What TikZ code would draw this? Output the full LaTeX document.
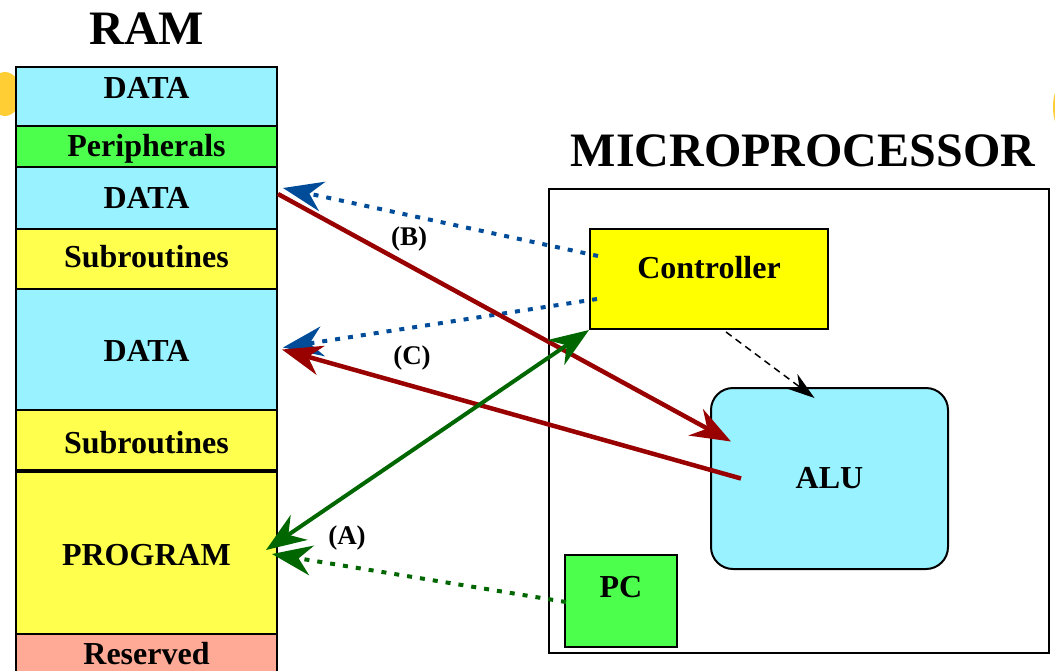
\documentclass[tikz,border=0pt]{standalone}
\usepackage{fontspec}
\setmainfont{Liberation Serif}
\usetikzlibrary{arrows.meta,calc}
\definecolor{cellcyan}{RGB}{153,242,255}
\definecolor{cellgreen}{RGB}{77,255,77}
\definecolor{cellyellow}{RGB}{255,255,77}
\definecolor{ctrlyellow}{RGB}{255,255,0}
\definecolor{cellsalmon}{RGB}{255,170,150}
\definecolor{darkred}{RGB}{153,0,0}
\definecolor{darkblue}{RGB}{0,76,153}
\definecolor{darkgreen}{RGB}{0,102,0}
\definecolor{smudge}{RGB}{255,200,30}
\begin{document}
\begin{tikzpicture}[x=1pt,y=-1pt,
  boxfont/.style={font=\bfseries\fontsize{32}{32}\selectfont},
  ramcell/.style={draw=black,line width=2pt,inner sep=0pt,minimum width=261pt,anchor=north west,boxfont},
  unit/.style={draw=black,line width=2pt,inner sep=0pt,anchor=north west,boxfont},
  titlefont/.style={font=\bfseries\fontsize{48}{48}\selectfont,inner sep=0pt},
  lbl/.style={font=\bfseries\fontsize{27}{27}\selectfont,inner sep=0pt},
  bigtip/.tip={Stealth[length=40pt,width=30pt,inset=13pt]},
  headtip/.style={-bigtip},
  redarrow/.style={headtip,draw=darkred,line width=4.5pt},
  greenarrow/.style={bigtip-bigtip,draw=darkgreen,line width=4pt},
  bluedots/.style={headtip,draw=darkblue,line width=4pt,dash pattern=on 5pt off 8pt},
  greendots/.style={headtip,draw=darkgreen,line width=4pt,dash pattern=on 5pt off 8pt},
  ctrldash/.style={-{Stealth[length=28pt,width=18pt,inset=9pt]},draw=black,line width=1.5pt,dash pattern=on 7pt off 5pt}]
\clip (0,0) rectangle (1055,670);
% background smudges
\fill[smudge,opacity=0.9] (5,94) ellipse [x radius=16pt,y radius=22pt];
\fill[smudge,opacity=0.9] (1059,107) ellipse [x radius=6pt,y radius=19pt];
% titles
\node[titlefont] (ramtitle) at (147,29) {RAM};
\node[titlefont] (mptitle) at (803,151) {MICROPROCESSOR};
% RAM cells
\node[ramcell,fill=cellcyan,minimum height=59pt,text depth=17pt] (d1) at (15,66) {DATA};
\node[ramcell,fill=cellgreen,minimum height=41pt,text depth=2pt] (per) at (15,125) {Peripherals};
\node[ramcell,fill=cellcyan,minimum height=62pt] (d3) at (15,166) {DATA};
\node[ramcell,fill=cellyellow,minimum height=60pt,text height=17pt] (sub1) at (15,228) {Subroutines};
\node[ramcell,fill=cellcyan,minimum height=121pt,text height=25pt] (d5) at (15,288) {DATA};
\node[ramcell,fill=cellyellow,minimum height=60pt,text height=28pt] (sub2) at (15,409) {Subroutines};
\node[ramcell,fill=cellyellow,minimum height=164pt,text height=27pt] (prog) at (15,469) {PROGRAM};
\node[ramcell,fill=cellsalmon,minimum height=40pt] (res) at (15,633) {Reserved};
\draw[line width=3pt] (sub2.south west) -- (sub2.south east);
% microprocessor
\node[unit,minimum width=500pt,minimum height=464pt] (mp) at (548,188) {};
\node[unit,fill=ctrlyellow,minimum width=238pt,minimum height=100pt,text depth=24pt] (ctrl) at (589,228) {Controller};
\node[unit,fill=cellcyan,rounded corners=22pt,minimum width=237pt,minimum height=181pt] (alu) at (710,387) {ALU};
\node[unit,fill=cellgreen,minimum width=112pt,minimum height=92pt,text depth=28pt] (pc) at (564,554) {PC};
% connectors
\draw[ctrldash] ($(ctrl.south)+(17,2)$) -- ($(alu.north)+(-15,11)$);
\draw[bluedots] ($(ctrl.west)+(9,-23)$) -- ($(d3.east)+(5,-10)$);
\draw[bluedots] ($(ctrl.west)+(8,20)$) -- ($(d5.east)+(5,-2)$);
\draw[redarrow] ($(d3.east)+(0,-4)$) -- ($(alu.west)+(21,-37)$);
\draw[redarrow] ($(alu.west)+(31,0)$) -- ($(d5.east)+(4,0)$);
\draw[greendots] ($(pc.west)+(2,1)$) -- ($(prog.east)+(-6,2)$);
\draw[greenarrow] ($(prog.east)+(-12,-2)$) -- (ctrl.south west);
% labels
\node[lbl] (lb) at (409,239) {(B)};
\node[lbl] (lc) at (412,358) {(C)};
\node[lbl] (la) at (347,538) {(A)};
\end{tikzpicture}
\end{document}
